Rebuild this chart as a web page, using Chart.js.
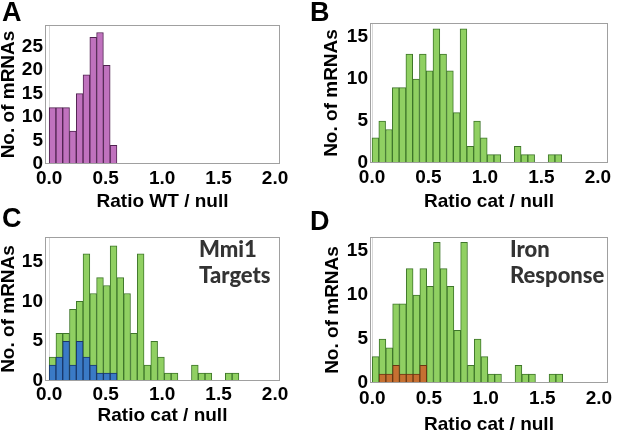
<!DOCTYPE html>
<html lang="en">
<head>
    <meta charset="UTF-8">
    <title>Ratio histograms</title>
    <script src="https://cdn.jsdelivr.net/npm/chart.js"></script>
    <style>
        body { margin: 0; padding: 0; background: #fff; }
        .page { position: relative; width: 617px; height: 432px; overflow: hidden; }
        canvas { position: absolute; }
        .letter {
            position: absolute;
            font: bold 27px "Liberation Sans", Arial, sans-serif;
            line-height: 27px;
            color: #000;
        }
        .note {
            position: absolute;
            font: 900 22px Lato, "Open Sans", sans-serif;
            line-height: 26px;
            color: #333;
        }
    </style>
</head>
<body>
<div class="page">
    <canvas id="chartA" width="308" height="216" style="left:0;top:0"></canvas>
    <canvas id="chartB" width="309" height="216" style="left:308px;top:0"></canvas>
    <canvas id="chartC" width="308" height="216" style="left:0;top:216px"></canvas>
    <canvas id="chartD" width="309" height="216" style="left:308px;top:216px"></canvas>

    <div class="letter" style="left:2px;top:-1px">A</div>
    <div class="letter" style="left:310px;top:-1px">B</div>
    <div class="letter" style="left:2px;top:205px">C</div>
    <div class="letter" style="left:310px;top:208px">D</div>

    <div class="note" style="left:199px;top:236px">Mmi1<br>Targets</div>
    <div class="note" style="left:510px;top:236px">Iron<br>Response</div>
</div>

<script>
// histogram bins are 0.06 wide, starting at 0
const binWidth = 0.06;
const countsWT = [12, 12, 12, 7, 15, 19, 27, 28, 21, 4];
const countsCat = [3, 5, 4, 9, 9, 13, 10, 13, 11, 16, 13, 11, 6, 16, 2, 5, 3, 1, 1, 0, 0, 2, 1, 1, 0, 0, 1, 1];
const countsCatC = [3, 6, 6, 9, 10, 16, 11, 13, 12, 17, 13, 11, 6, 16, 2, 5, 3, 1, 1, 0, 0, 2, 1, 1, 0, 0, 1, 1];
const countsMmi1 = [2, 3, 5, 2, 5, 3, 2, 1, 1, 1];
const countsIron = [0, 1, 1, 2, 1, 1, 1, 2];

const xTicks = [0, 0.5, 1.0, 1.5, 2.0];
const yTicksA = [0, 5, 10, 15, 20, 25];
const yTicksCat = [0, 5, 10, 15];

const yTitle = 'No. of mRNAs';
const xTitleWT = 'Ratio WT / null';
const xTitleCat = 'Ratio cat / null';

const purple = { fill: 'rgb(192,114,190)', line: 'rgb(80,35,80)' };
const green = { fill: 'rgb(144,208,98)', line: 'rgb(62,118,42)' };
const blue = { fill: 'rgb(58,122,198)', line: 'rgb(25,55,105)' };
const orange = { fill: 'rgb(198,112,50)', line: 'rgb(105,55,20)' };

function bins(counts) {
    return counts.map((c, i) => ({ x: (i + 0.5) * binWidth, y: c }));
}

function histSet(counts, col) {
    return {
        data: bins(counts),
        backgroundColor: col.fill,
        borderColor: col.line,
        borderWidth: ctx => (ctx.raw && ctx.raw.y > 0 ? 1 : 0),
        borderSkipped: false,
        barPercentage: 1,
        categoryPercentage: 1,
        grouped: false
    };
}

const frame = {
    id: 'frame',
    afterDraw(chart) {
        const a = chart.chartArea;
        const c = chart.ctx;
        c.save();
        c.strokeStyle = '#a0a0a0';
        c.lineWidth = 1;
        c.strokeRect(Math.round(a.left) + 0.5, Math.round(a.top) + 0.5,
            Math.round(a.right - a.left) - 1, Math.round(a.bottom - a.top) - 1);
        c.restore();
    }
};

const font = { family: '"Liberation Sans", Arial, sans-serif', weight: 'bold', size: 19 };

function makeChart(id, p) {
    new Chart(document.getElementById(id), {
        type: 'bar',
        data: { datasets: p.sets },
        options: {
            responsive: false,
            animation: false,
            layout: { padding: { top: p.top, right: p.right, left: 0, bottom: 0 } },
            plugins: { legend: { display: false }, tooltip: { enabled: false } },
            scales: {
                x: {
                    type: 'linear',
                    min: p.xMin,
                    max: p.xMax,
                    offset: false,
                    afterBuildTicks: s => { s.ticks = xTicks.map(v => ({ value: v })); },
                    afterFit: s => { s.height = p.xHeight; },
                    ticks: {
                        font: font, color: '#000', padding: p.xTickPad,
                        maxRotation: 0, autoSkip: false,
                        callback: v => v.toFixed(1)
                    },
                    grid: {
                        offset: false,
                        drawTicks: false,
                        color: ctx => (ctx.tick && ctx.tick.value === 0 ? '#d8d8d8' : 'rgba(0,0,0,0)')
                    },
                    border: { display: false },
                    title: {
                        display: true, text: p.xTitle, color: '#000',
                        font: Object.assign({ lineHeight: p.xTitleLH || 1.2 }, font),
                        padding: { top: 0, bottom: p.xTitlePad }
                    }
                },
                y: {
                    min: 0,
                    max: p.yMax,
                    afterBuildTicks: s => { s.ticks = p.yTicks.map(v => ({ value: v })); },
                    afterFit: s => { s.width = p.yWidth; },
                    ticks: { font: font, color: '#000', padding: 2 },
                    grid: { display: false, drawTicks: false },
                    border: { display: false },
                    title: {
                        display: true, text: yTitle, color: '#000',
                        font: Object.assign({ lineHeight: 0.9 }, font),
                        padding: { top: p.yTitlePad, bottom: 0 }
                    }
                }
            }
        },
        plugins: [frame]
    });
}

makeChart('chartA', {
    sets: [histSet(countsWT, purple)],
    xTitle: xTitleWT, yTicks: yTicksA, yMax: 29.6,
    xMin: -0.037, xMax: 2.044,
    top: 25, right: 28, yWidth: 45, xHeight: 52,
    xTickPad: 3, xTitlePad: 3, yTitlePad: 0
});

makeChart('chartB', {
    sets: [histSet(countsCat, green)],
    xTitle: xTitleCat, yTicks: yTicksCat, yMax: 16.7,
    xMin: -0.018, xMax: 2.09,
    top: 23, right: 9, yWidth: 62, xHeight: 53,
    xTickPad: 3, xTitlePad: 3, yTitlePad: 15
});

makeChart('chartC', {
    sets: [histSet(countsMmi1, blue), histSet(countsCatC, green)],
    xTitle: xTitleCat, yTicks: yTicksCat, yMax: 18.1,
    xMin: -0.037, xMax: 2.044,
    top: 21, right: 28, yWidth: 45, xHeight: 51,
    xTickPad: 2, xTitlePad: 5, yTitlePad: 0
});

makeChart('chartD', {
    sets: [histSet(countsIron, orange), histSet(countsCat, green)],
    xTitle: xTitleCat, yTicks: yTicksCat, yMax: 16.6,
    xMin: -0.02, xMax: 2.08,
    top: 21, right: 9, yWidth: 62, xHeight: 49,
    xTickPad: 4, xTitlePad: 0, xTitleLH: 0.8, yTitlePad: 16
});
</script>
</body>
</html>
